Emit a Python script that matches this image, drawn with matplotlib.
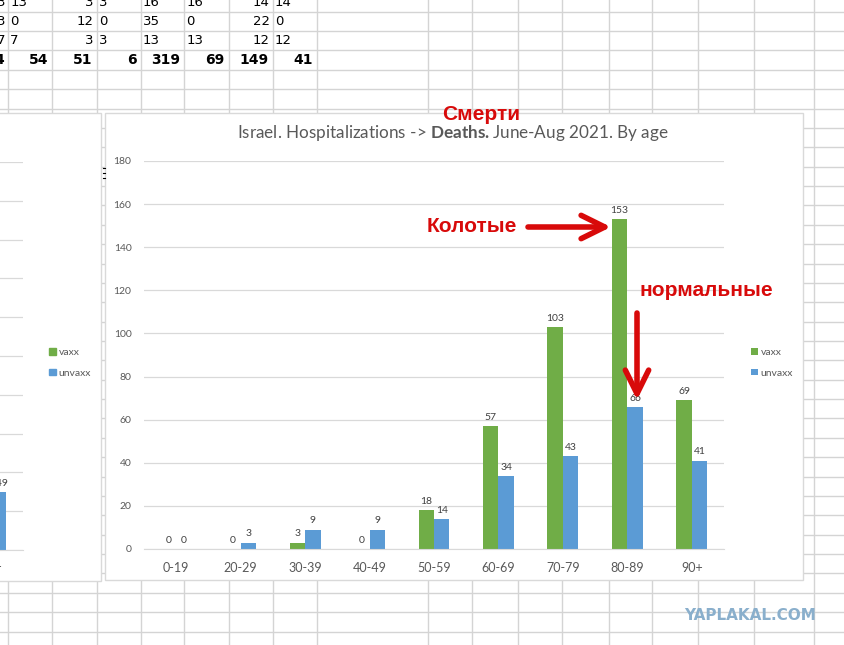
import matplotlib
matplotlib.use('Agg')
import matplotlib.pyplot as plt
import numpy as np
from matplotlib.patches import Rectangle, Patch

# chart data (deaths, June-Aug 2021)
ages = ['0-19', '20-29', '30-39', '40-49', '50-59', '60-69', '70-79', '80-89', '90+']
vaxx = [0, 0, 3, 0, 18, 57, 103, 153, 69]
unvaxx = [0, 3, 9, 9, 14, 34, 43, 66, 41]

# left (hospitalizations) chart, only the last bar is on screen
left_ages = ['90+']
left_unvaxx = [149]

# spreadsheet cells visible above the charts
rows_text = [
    [('r', 0, '3'), ('l', 0, '13'), ('r', 2, '3'), ('l', 2, '3'), ('l', 3, '16'), ('l', 4, '16'), ('r', 6, '14'), ('l', 6, '14')],
    [('r', 0, '3'), ('l', 0, '0'), ('r', 2, '12'), ('l', 2, '0'), ('l', 3, '35'), ('l', 4, '0'), ('r', 6, '22'), ('l', 6, '0')],
    [('r', 0, '7'), ('l', 0, '7'), ('r', 2, '3'), ('l', 2, '3'), ('l', 3, '13'), ('l', 4, '13'), ('r', 6, '12'), ('l', 6, '12')],
]
totals = ['4', '54', '51', '6', '319', '69', '149', '41']

green = '#70AD47'
blue = '#5B9BD5'
grid_c = '#D9D9D9'
sheet_c = '#D4D4D4'
txt_c = '#595959'
red = '#D80A0A'

plt.rcParams['font.family'] = ['Lato', 'DejaVu Sans']
plt.rcParams['mathtext.fontset'] = 'custom'
plt.rcParams['mathtext.rm'] = 'Lato'
plt.rcParams['mathtext.bf'] = 'Lato:bold'

W, H = 844, 645
fig = plt.figure(figsize=(8.44, 6.45), dpi=100)


def fpos(x0, y0, x1, y1):
    return [x0 / W, 1 - y1 / H, (x1 - x0) / W, (y1 - y0) / H]


# background: the excel sheet
bg = fig.add_axes([0, 0, 1, 1], zorder=0)
bg.set_xlim(0, W)
bg.set_ylim(H, 0)
bg.axis('off')

cols = [8.3, 52.3, 96.7, 140.7, 184.3, 228.7, 272.7, 316.7, 428, 472, 518, 562, 609, 652, 698, 754, 814]
for cx in cols:
    bg.axvline(cx, color=sheet_c, lw=1, zorder=1)
for k in range(34):
    bg.axhline(11.7 + 19.37 * k, color=sheet_c, lw=1, zorder=1)

for i, row in enumerate(rows_text):
    yc = 2.5 + 19.2 * i
    for side, c, s in row:
        if side == 'r':
            bg.text(cols[c] - 3, yc, s, ha='right', va='center', fontsize=9.5, family='DejaVu Sans')
        else:
            bg.text(cols[c] + 2, yc, s, ha='left', va='center', fontsize=9.5, family='DejaVu Sans')
for c, s in enumerate(totals):
    bg.text(cols[c] - 4, 59.5, s, ha='right', va='center', fontsize=10, fontweight='bold', family='DejaVu Sans')

# chart boxes
bg.add_patch(Rectangle((-5, 112.5), 106, 468.5, facecolor='white', edgecolor=grid_c, lw=1, zorder=3))
bg.add_patch(Rectangle((104.5, 112.5), 698, 467.5, facecolor='white', edgecolor=grid_c, lw=1, zorder=3))
for yy in [168, 173, 178]:
    bg.plot([103, 105], [yy, yy], color='black', lw=0.8, zorder=4)

# left chart (cut off)
axl = fig.add_axes(fpos(-41, 162, 23, 550), zorder=1)
axl.patch.set_alpha(0)
bl = axl.bar(np.arange(len(left_ages)) + 0.12, left_unvaxx, 0.24, color=blue)
axl.bar_label(bl, padding=3, fontsize=7.5, color='#404040')
axl.set_xlim(-0.5, 0.5)
axl.set_ylim(0, 1000)
axl.set_yticks(range(0, 1001, 100))
axl.set_xticks(np.arange(len(left_ages)))
axl.set_xticklabels(left_ages, fontsize=9, color=txt_c)
axl.yaxis.grid(True, color=grid_c, lw=0.9)
axl.set_axisbelow(True)
for sp in ['top', 'right', 'left']:
    axl.spines[sp].set_visible(False)
axl.spines['bottom'].set_color(grid_c)
axl.tick_params(length=0, pad=8, labelleft=False)
fig.legend(handles=[Patch(color=green, label='vaxx'), Patch(color=blue, label='unvaxx')],
           loc='center left', bbox_to_anchor=(40 / W, 1 - 363 / H), frameon=False,
           fontsize=7.5, handlelength=0.6, handleheight=0.6, handletextpad=0.3,
           labelspacing=1.1, labelcolor=txt_c)

# main chart
ax = fig.add_axes(fpos(144, 161, 724, 549), zorder=1)
ax.patch.set_alpha(0)
x = np.arange(len(ages))
w = 0.24
b1 = ax.bar(x - w / 2, vaxx, w, color=green, label='vaxx')
b2 = ax.bar(x + w / 2, unvaxx, w, color=blue, label='unvaxx')
ax.bar_label(b1, padding=3, fontsize=7.5, color='#404040')
ax.bar_label(b2, padding=3, fontsize=7.5, color='#404040')
ax.set_xlim(-0.5, len(ages) - 0.5)
ax.set_ylim(0, 180)
ax.set_yticks(range(0, 181, 20))
ax.set_xticks(x)
ax.set_xticklabels(ages, fontsize=9, color=txt_c)
for lab in ax.get_yticklabels():
    lab.set_fontsize(7.5)
    lab.set_color(txt_c)
ax.yaxis.grid(True, color=grid_c, lw=0.9)
ax.set_axisbelow(True)
for sp in ['top', 'right', 'left']:
    ax.spines[sp].set_visible(False)
ax.spines['bottom'].set_color(grid_c)
ax.tick_params(length=0, pad=9)
ax.legend(loc='center left', bbox_to_anchor=(742 / W, 1 - 363 / H), bbox_transform=fig.transFigure,
          frameon=False, fontsize=7.5, handlelength=0.6, handleheight=0.6, handletextpad=0.3,
          labelspacing=1.1, labelcolor=txt_c)

# overlay: title, red notes, watermark
top = fig.add_axes([0, 0, 1, 1], zorder=5)
top.set_xlim(0, W)
top.set_ylim(H, 0)
top.axis('off')
top.text(453, 133, r'Israel. Hospitalizations -> $\mathbf{Deaths.}$June-Aug 2021. By age',
         ha='center', va='center', fontsize=12.3, color=txt_c)
top.text(481, 114, 'Смерти', ha='center', va='center', fontsize=15, fontweight='bold',
         color=red, family='Liberation Sans')
top.text(472, 226, 'Колотые', ha='center', va='center', fontsize=15, fontweight='bold',
         color=red, family='Liberation Sans')
top.text(706, 291, 'нормальные', ha='center', va='center', fontsize=15, fontweight='bold',
         color=red, family='Liberation Sans')
arrow = dict(arrowstyle='->,head_length=0.85,head_width=0.42', lw=4, color=red,
             mutation_scale=20, shrinkA=0, shrinkB=0)
top.annotate('', xy=(611, 227), xytext=(528, 227), arrowprops=arrow)
top.annotate('', xy=(637, 400), xytext=(637, 313), arrowprops=arrow)
top.text(750, 615.5, 'YAPLAKAL.COM', ha='center', va='center', fontsize=11, fontweight='bold',
         color='#8AAFCC', family='DejaVu Sans')

fig.savefig('out.png', dpi=100)
